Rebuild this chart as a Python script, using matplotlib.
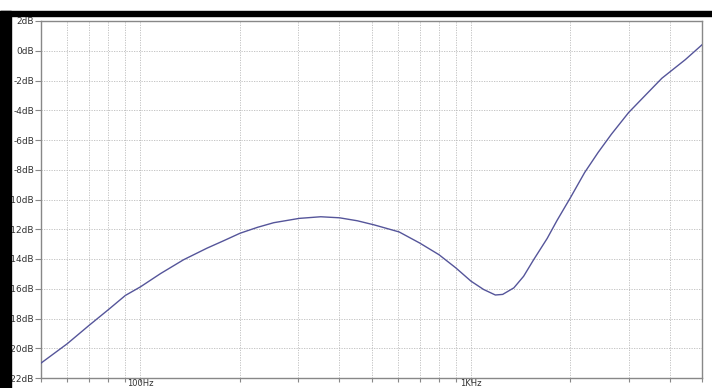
import numpy as np
import matplotlib
matplotlib.use('Agg')
import matplotlib.pyplot as plt
import matplotlib.ticker as ticker
from matplotlib.patches import Rectangle

# frequency response
freq = [50, 60, 70, 80, 90, 100, 115, 135, 159, 179, 200, 226, 253, 302, 351,
        400, 453, 510, 606, 700, 800, 900, 1000, 1092, 1185, 1247, 1348, 1443,
        1547, 1700, 1822, 2000, 2207, 2424, 2660, 3000, 3357, 3780, 4450, 5000]
gain = [-21.0, -19.7, -18.45, -17.4, -16.45, -15.87, -14.98, -14.05, -13.27,
        -12.76, -12.27, -11.87, -11.56, -11.27, -11.16, -11.23, -11.43, -11.71,
        -12.18, -12.93, -13.71, -14.6, -15.49, -16.05, -16.42, -16.38, -15.94,
        -15.16, -14.05, -12.62, -11.4, -9.87, -8.19, -6.84, -5.61, -4.15,
        -3.03, -1.85, -0.6, 0.4]

ytick_vals = list(range(2, -23, -2))
ytick_labels = ['%ddB' % v for v in ytick_vals]
xlabel_vals = [100, 1000]
xlabel_text = ['100Hz', '1KHz']

W, H = 712, 388
fig = plt.figure(figsize=(W / 100, H / 100), dpi=100)
fig.patch.set_facecolor('white')
ax = fig.add_axes([41 / W, 1 - 378 / H, (702 - 41) / W, (378 - 21) / H])

ax.plot(freq, gain, color='#55559a', lw=1.0, zorder=3)

ax.set_xscale('log')
ax.set_xlim(50, 5000)
ax.set_ylim(-22, 2)

ax.set_yticks(ytick_vals)
ax.set_yticklabels(ytick_labels, fontsize=6.5, color='#333333')
ax.xaxis.set_major_locator(ticker.LogLocator(base=10, subs=np.arange(1, 10)))
ax.xaxis.set_minor_locator(ticker.NullLocator())
ax.xaxis.set_major_formatter(ticker.NullFormatter())

ax.tick_params(axis='y', direction='out', length=4, width=0.8, color='#888888', pad=1)
ax.tick_params(axis='x', direction='out', length=3, width=0.8, color='#888888')

ax.grid(True, which='major', color='#bbbbbb', linestyle=(0, (1.5, 1.5)), linewidth=0.6)

for s in ax.spines.values():
    s.set_color('#888888')
    s.set_linewidth(1.0)

# x labels sit right at the bottom edge
for v, t in zip(xlabel_vals, xlabel_text):
    x_fig = fig.transFigure.inverted().transform(ax.transData.transform((v, -22)))[0]
    fig.text(x_fig, 0.0, t, ha='center', va='bottom', fontsize=6, color='#333333')

# black frame bits of the screenshot
fig.patches.append(Rectangle((0, 0), 11 / W, 1 - 11 / H, transform=fig.transFigure,
                             color='black', zorder=10))
fig.patches.append(Rectangle((0, 1 - 16 / H), 1, 5 / H, transform=fig.transFigure,
                             color='black', zorder=10))

fig.savefig('out.png', dpi=100)
